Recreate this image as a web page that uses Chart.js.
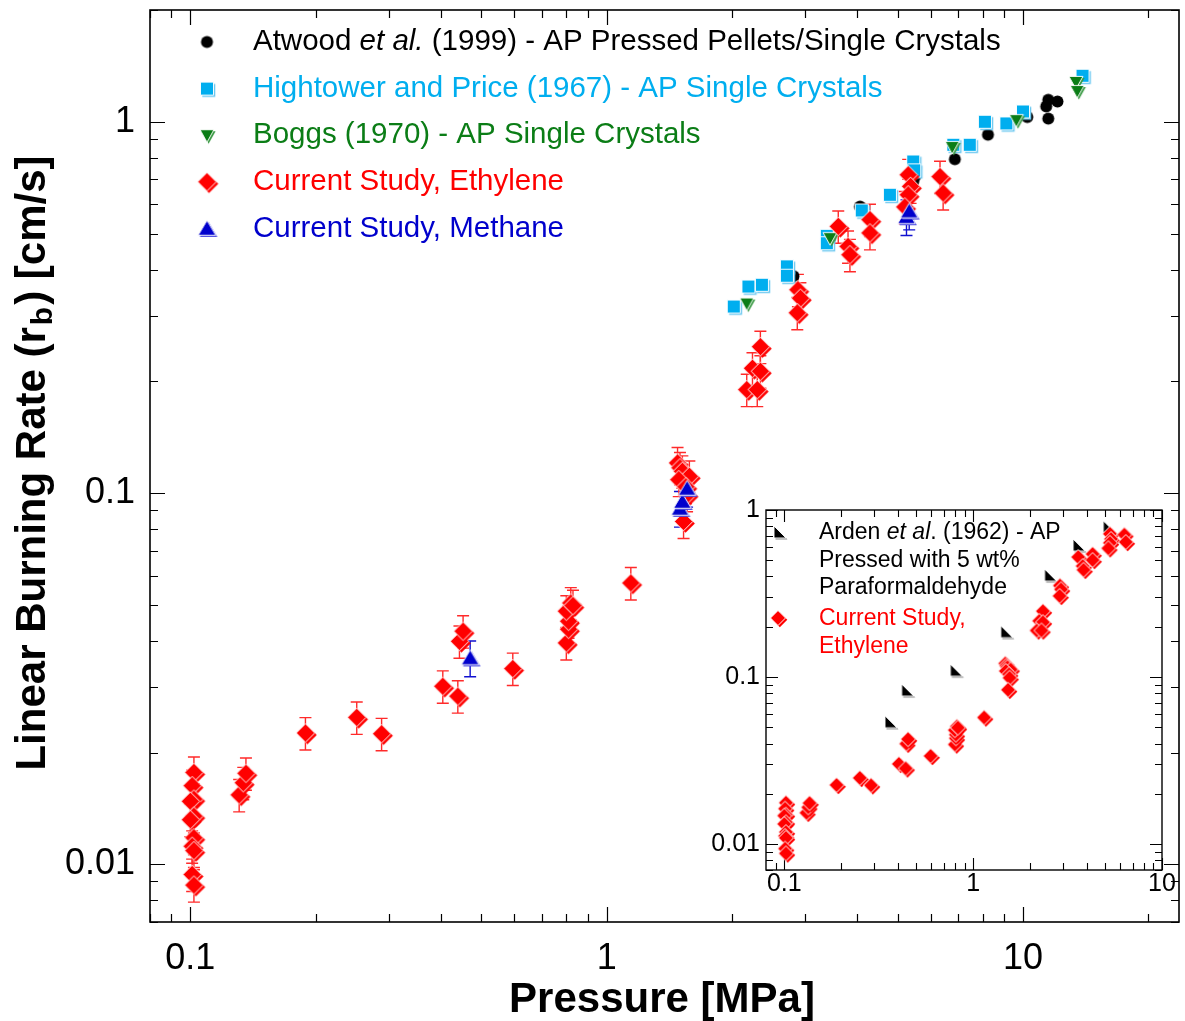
<!DOCTYPE html>
<html><head><meta charset="utf-8">
<script src="https://cdn.jsdelivr.net/npm/chart.js@4.4.0/dist/chart.umd.min.js"></script>
<style>
html,body{margin:0;padding:0;background:#fff;}
#wrap{position:relative;width:1185px;height:1021px;overflow:hidden;}
#main{position:absolute;left:0;top:0;width:1185px;height:1021px;}
#inset{position:absolute;left:705px;top:495px;width:478px;height:410px;}
</style></head><body>
<div id="wrap">
<canvas id="main" width="1185" height="1021"></canvas>
<canvas id="inset" width="478" height="410"></canvas>
</div>
<script>
// ---------------- DATA ----------------
const atwoodPressure = [2.81, 3.44, 4.06, 5.45, 5.50, 6.86, 8.24, 10.24, 11.37, 11.5, 12.1, 11.5];
const atwoodRate     = [0.384, 0.487, 0.591, 0.69, 0.712, 0.793, 0.923, 1.03, 1.10, 1.146, 1.134, 1.02];

const hightowerPressure = [2.02, 2.19, 2.36, 2.71, 2.71, 3.38, 3.38, 4.10, 4.79, 5.45, 5.48, 6.80, 7.45, 8.10, 9.12, 10.0, 13.9];
const hightowerRate     = [0.318, 0.360, 0.364, 0.408, 0.385, 0.493, 0.471, 0.577, 0.636, 0.782, 0.74, 0.867, 0.867, 1.0, 0.99, 1.066, 1.33];

const boggsPressure = [2.17, 3.44, 6.76, 9.64, 13.4, 13.5];
const boggsRate     = [0.324, 0.486, 0.855, 1.01, 1.28, 1.21];

const ethylenePressure = [0.102, 0.101, 0.102, 0.100, 0.102, 0.100, 0.102, 0.101, 0.102, 0.101, 0.102,
  0.131, 0.134, 0.136, 0.189, 0.251, 0.288, 0.404, 0.439, 0.443, 0.452, 0.595,
  0.80, 0.81, 0.81, 0.80, 0.82, 0.83, 1.143,
  1.48, 1.50, 1.52, 1.58, 1.49, 1.55, 1.56, 1.53,
  2.34, 2.24, 2.34, 2.17, 2.30, 2.88, 2.92, 2.87,
  3.60, 3.80, 3.84, 4.29, 4.29, 5.30, 5.37, 5.30, 5.20, 6.32, 6.43];
const ethyleneRate = [0.0177, 0.0163, 0.0150, 0.0148, 0.0135, 0.0132, 0.0118, 0.0112, 0.0109, 0.0094, 0.0088,
  0.0154, 0.0166, 0.0176, 0.0226, 0.0249, 0.0225, 0.0302, 0.0284, 0.0399, 0.0425, 0.0337,
  0.0395, 0.0430, 0.0452, 0.0481, 0.0506, 0.0498, 0.0573,
  0.1206, 0.117, 0.1145, 0.111, 0.1087, 0.104, 0.099, 0.0839,
  0.248, 0.217, 0.213, 0.190, 0.190, 0.353, 0.335, 0.306,
  0.523, 0.462, 0.4385, 0.545, 0.502, 0.72, 0.67, 0.636, 0.59, 0.712, 0.643];

const methanePressure = [0.47, 1.50, 1.52, 1.56, 5.25, 5.33];
const methaneRate     = [0.036, 0.091, 0.095, 0.103, 0.555, 0.575];

const ardenPressure = [0.367, 0.45, 0.815, 1.507, 2.57, 3.64, 5.26];
const ardenRate     = [0.054, 0.0836, 0.110, 0.187, 0.408, 0.617, 0.794];

const ethyleneRelErr = 0.10;
const methaneRelErr = 0.11;

const mainXTicks = [0.1, 1, 10];
const mainXTickLabels = ['0.1', '1', '10'];
const mainYTicks = [0.01, 0.1, 1];
const mainYTickLabels = ['0.01', '0.1', '1'];
const mainXMinor = [0.08, 0.09, 0.2, 0.3, 0.4, 0.5, 0.6, 0.7, 0.8, 0.9, 2, 3, 4, 5, 6, 7, 8, 9, 20];
const mainYMinor = [0.007, 0.008, 0.009, 0.02, 0.03, 0.04, 0.05, 0.06, 0.07, 0.08, 0.09, 0.2, 0.3, 0.4, 0.5, 0.6, 0.7, 0.8, 0.9, 2];

const insetXTicks = [0.1, 1, 10];
const insetXTickLabels = ['0.1', '1', '10'];
const insetYTicks = [0.01, 0.1, 1];
const insetYTickLabels = ['0.01', '0.1', '1'];
const insetXMinor = [0.09, 0.2, 0.3, 0.4, 0.5, 0.6, 0.7, 0.8, 0.9, 2, 3, 4, 5, 6, 7, 8, 9];
const insetYMinor = [0.007, 0.008, 0.009, 0.02, 0.03, 0.04, 0.05, 0.06, 0.07, 0.08, 0.09, 0.2, 0.3, 0.4, 0.5, 0.6, 0.7, 0.8, 0.9];

const xTitle = 'Pressure [MPa]';
const yTitleParts = ['Linear Burning Rate (r', 'b', ') [cm/s]'];

// ---------------- STYLE ----------------
const FONT = "'Liberation Sans', Arial, Helvetica, sans-serif";
const RED = '#ff0000', CYAN = '#00aeef', GREEN = '#0b7d16', BLUE = '#0000cc', BLACK = '#000000';

function zip(a, b) { return a.map((v, i) => ({ x: v, y: b[i] })); }

function shapePath(g, shape, cx, cy, s) {
  g.beginPath();
  if (shape === 'diamond') { g.moveTo(cx, cy - s); g.lineTo(cx + s, cy); g.lineTo(cx, cy + s); g.lineTo(cx - s, cy); g.closePath(); }
  else if (shape === 'square') { g.rect(cx - s, cy - s, 2 * s, 2 * s); }
  else if (shape === 'circle') { g.arc(cx, cy, s, 0, Math.PI * 2); }
  else if (shape === 'triUp') { g.moveTo(cx, cy - s); g.lineTo(cx + s * 1.1, cy + s * 0.85); g.lineTo(cx - s * 1.1, cy + s * 0.85); g.closePath(); }
  else if (shape === 'triDown') { g.moveTo(cx, cy + s); g.lineTo(cx + s, cy - s * 0.8); g.lineTo(cx - s, cy - s * 0.8); g.closePath(); }
  else if (shape === 'corner') { g.moveTo(cx - s, cy - s); g.lineTo(cx - s, cy + s); g.lineTo(cx + s, cy + s); g.closePath(); }
}
function makeMarker(shape, s, fill, edge, off) {
  const dim = Math.ceil(2 * s * 1.2 + 2 * off + 6);
  const c = document.createElement('canvas'); c.width = dim; c.height = dim;
  const g = c.getContext('2d'); const cx = dim / 2, cy = dim / 2;
  if (off > 0) { shapePath(g, shape, cx + off, cy + off, s); g.fillStyle = edge; g.fill(); }
  shapePath(g, shape, cx, cy, s); g.fillStyle = fill; g.fill();
  if (off > 0) { g.lineWidth = 1; g.strokeStyle = 'rgba(255,255,255,0.95)'; g.stroke(); }
  return c;
}

const M = {
  atwood: makeMarker('circle', 6, BLACK, '#333', 0),
  hightower: makeMarker('square', 6.5, CYAN, '#6cc8f0', 1.8),
  boggs: makeMarker('triDown', 7, GREEN, '#3a9a44', 1.6),
  ethylene: makeMarker('diamond', 9.3, RED, RED, 2),
  methane: makeMarker('triUp', 8, BLUE, '#4a4ae0', 1.6),
  ethyleneSmall: makeMarker('diamond', 7.5, RED, RED, 1.8),
  arden: makeMarker('corner', 6, BLACK, '#888', 1.5)
};

// ---------------- PLUGINS ----------------
function frameTicks(cfg) {
  return {
    id: 'frameTicks',
    beforeDatasetsDraw(chart) {
      const { ctx, chartArea: { left, right, top, bottom }, scales: { x, y } } = chart;
      ctx.save();
      ctx.strokeStyle = '#000';
      ctx.lineWidth = cfg.tickWidth;
      const xt = (vals, len) => vals.forEach(v => {
        const p = Math.round(x.getPixelForValue(v)) + 0.5;
        if (p < left - 0.5 || p > right + 0.5) return;
        ctx.beginPath(); ctx.moveTo(p, bottom); ctx.lineTo(p, bottom - len);
        ctx.moveTo(p, top); ctx.lineTo(p, top + len); ctx.stroke();
      });
      const yt = (vals, len) => vals.forEach(v => {
        const p = Math.round(y.getPixelForValue(v)) + 0.5;
        if (p < top - 0.5 || p > bottom + 0.5) return;
        ctx.beginPath(); ctx.moveTo(left, p); ctx.lineTo(left + len, p);
        ctx.moveTo(right, p); ctx.lineTo(right - len, p); ctx.stroke();
      });
      xt(cfg.xMajor, cfg.major); xt(cfg.xMinor, cfg.minor);
      yt(cfg.yMajor, cfg.major); yt(cfg.yMinor, cfg.minor);
      ctx.lineWidth = cfg.frameWidth;
      ctx.strokeRect(left, top, right - left, bottom - top);
      ctx.restore();
    }
  };
}

const errorBars = {
  id: 'errorBars',
  beforeDatasetsDraw(chart) {
    const { ctx, scales: { x, y } } = chart;
    chart.data.datasets.forEach(ds => {
      if (!ds.errRel) return;
      ctx.save();
      ctx.strokeStyle = ds.errColor; ctx.lineWidth = 1.4;
      ds.data.forEach(p => {
        const px = x.getPixelForValue(p.x);
        const y1 = y.getPixelForValue(p.y * (1 + ds.errRel));
        const y0 = y.getPixelForValue(p.y * (1 - ds.errRel));
        ctx.beginPath();
        ctx.moveTo(px, y1); ctx.lineTo(px, y0);
        ctx.moveTo(px - 6, y1); ctx.lineTo(px + 6, y1);
        ctx.moveTo(px - 6, y0); ctx.lineTo(px + 6, y0);
        ctx.stroke();
      });
      ctx.restore();
    });
  }
};

function drawRuns(ctx, x, y, runs, size, color) {
  let cx = x;
  ctx.textBaseline = 'middle'; ctx.textAlign = 'left'; ctx.fillStyle = color;
  runs.forEach(r => {
    ctx.font = (r[1] === 'italic' ? 'italic ' : '') + size + 'px ' + FONT;
    ctx.fillText(r[0], cx, y);
    cx += ctx.measureText(r[0]).width;
  });
}

const mainLegendItems = [
  { marker: M.atwood, color: BLACK, runs: [['Atwood ', 'normal'], ['et al.', 'italic'], [' (1999) - AP Pressed Pellets/Single Crystals', 'normal']] },
  { marker: M.hightower, color: CYAN, runs: [['Hightower and Price (1967) - AP Single Crystals', 'normal']] },
  { marker: M.boggs, color: GREEN, runs: [['Boggs (1970) - AP Single Crystals', 'normal']] },
  { marker: M.ethylene, color: RED, runs: [['Current Study, Ethylene', 'normal']] },
  { marker: M.methane, color: BLUE, runs: [['Current Study, Methane', 'normal']] }
];

const mainDecor = {
  id: 'mainDecor',
  afterDraw(chart) {
    const ctx = chart.ctx;
    ctx.save();
    mainLegendItems.forEach((it, i) => {
      const yy = 42 + i * 46.6;
      ctx.drawImage(it.marker, 207 - it.marker.width / 2, yy - it.marker.height / 2);
      drawRuns(ctx, 253, yy, it.runs, 29.5, it.color);
    });
    // x title
    ctx.font = 'bold 42px ' + FONT; ctx.fillStyle = '#000';
    ctx.textAlign = 'center'; ctx.textBaseline = 'middle';
    ctx.fillText(xTitle, 662, 1000);
    // y title with subscript
    ctx.translate(33, 463); ctx.rotate(-Math.PI / 2);
    ctx.textAlign = 'left';
    const f1 = 'bold 42px ' + FONT, f2 = 'bold 30px ' + FONT;
    ctx.font = f1; const w1 = ctx.measureText(yTitleParts[0]).width, w3 = ctx.measureText(yTitleParts[2]).width;
    ctx.font = f2; const w2 = ctx.measureText(yTitleParts[1]).width + 4;
    let sx = -(w1 + w2 + w3) / 2;
    ctx.font = f1; ctx.fillText(yTitleParts[0], sx, 0); sx += w1 + 2;
    ctx.font = f2; ctx.fillText(yTitleParts[1], sx, 11); sx += w2 - 2;
    ctx.font = f1; ctx.fillText(yTitleParts[2], sx, 0);
    ctx.restore();
  }
};

const insetLegend = {
  id: 'insetLegend',
  afterDraw(chart) {
    const ctx = chart.ctx;
    ctx.save();
    const ox = 705, oy = 495;
    ctx.drawImage(M.arden, 780 - ox - M.arden.width / 2, 532 - oy - M.arden.height / 2);
    drawRuns(ctx, 819 - ox, 533 - oy, [['Arden ', 'normal'], ['et al', 'italic'], ['. (1962) - AP', 'normal']], 23, BLACK);
    drawRuns(ctx, 819 - ox, 561 - oy, [['Pressed with 5 wt%', 'normal']], 23, BLACK);
    drawRuns(ctx, 819 - ox, 588 - oy, [['Paraformaldehyde', 'normal']], 23, BLACK);
    ctx.drawImage(M.ethyleneSmall, 778 - ox - M.ethyleneSmall.width / 2, 618 - oy - M.ethyleneSmall.height / 2);
    drawRuns(ctx, 819 - ox, 619 - oy, [['Current Study,', 'normal']], 23, RED);
    drawRuns(ctx, 819 - ox, 647 - oy, [['Ethylene', 'normal']], 23, RED);
    ctx.restore();
  }
};

function logAxis(opts) {
  return {
    type: 'logarithmic', min: opts.min, max: opts.max,
    grid: { display: false, drawTicks: false }, border: { display: false },
    afterBuildTicks: s => { s.ticks = opts.ticks.map(v => ({ value: v })); },
    afterFit: s => {
      opts.fit(s);
      s.paddingTop = 0; s.paddingBottom = 0; s.paddingLeft = 0; s.paddingRight = 0;
    },
    ticks: {
      autoSkip: false, maxRotation: 0, color: '#000', padding: opts.padding,
      font: { family: FONT, size: opts.size, lineHeight: 1.0 },
      callback: v => { const i = opts.ticks.indexOf(v); return i >= 0 ? opts.labels[i] : ''; }
    }
  };
}

// ---------------- MAIN CHART ----------------
new Chart(document.getElementById('main'), {
  type: 'scatter',
  data: {
    datasets: [
      { label: 'Current Study, Methane', data: zip(methanePressure, methaneRate), pointStyle: M.methane, pointRadius: 5, errRel: methaneRelErr, errColor: '#1010d0' },
      { label: 'Current Study, Ethylene', data: zip(ethylenePressure, ethyleneRate), pointStyle: M.ethylene, pointRadius: 5, errRel: ethyleneRelErr, errColor: '#ff2a2a' },
      { label: 'Boggs (1970)', data: zip(boggsPressure, boggsRate), pointStyle: M.boggs, pointRadius: 5 },
      { label: 'Hightower and Price (1967)', data: zip(hightowerPressure, hightowerRate), pointStyle: M.hightower, pointRadius: 5 },
      { label: 'Atwood et al. (1999)', data: zip(atwoodPressure, atwoodRate), pointStyle: M.atwood, pointRadius: 5 }
    ]
  },
  options: {
    responsive: false, animation: false, events: [],
    layout: { padding: { left: 0, top: 10, right: 3, bottom: 0 } },
    plugins: { legend: { display: false }, tooltip: { enabled: false } },
    scales: {
      x: logAxis({ min: 0.08, max: 23.7, ticks: mainXTicks, labels: mainXTickLabels, size: 36, padding: 19, fit: s => { s.height = 99; } }),
      y: logAxis({ min: 0.007, max: 2, ticks: mainYTicks, labels: mainYTickLabels, size: 36, padding: 15, fit: s => { s.width = 150; } })
    }
  },
  plugins: [frameTicks({ xMajor: mainXTicks, xMinor: mainXMinor, yMajor: mainYTicks, yMinor: mainYMinor, major: 15, minor: 8, tickWidth: 1.2, frameWidth: 1.6 }), errorBars, mainDecor]
});

// ---------------- INSET CHART ----------------
new Chart(document.getElementById('inset'), {
  type: 'scatter',
  data: {
    datasets: [
      { label: 'Current Study, Ethylene', data: zip(ethylenePressure, ethyleneRate), pointStyle: M.ethyleneSmall, pointRadius: 4 },
      { label: 'Arden et al. (1962)', data: zip(ardenPressure, ardenRate), pointStyle: M.arden, pointRadius: 4 }
    ]
  },
  options: {
    responsive: false, animation: false, events: [],
    layout: { padding: { left: 0, top: 15, right: 21, bottom: 0 } },
    plugins: { legend: { display: false }, tooltip: { enabled: false } },
    scales: {
      x: logAxis({ min: 0.08, max: 10, ticks: insetXTicks, labels: insetXTickLabels, size: 25, padding: 2, fit: s => { s.height = 35; } }),
      y: logAxis({ min: 0.007, max: 1, ticks: insetYTicks, labels: insetYTickLabels, size: 25, padding: 6, fit: s => { s.width = 61; } })
    }
  },
  plugins: [frameTicks({ xMajor: insetXTicks, xMinor: insetXMinor, yMajor: insetYTicks, yMinor: insetYMinor, major: 12, minor: 7, tickWidth: 1.1, frameWidth: 1.4 }), insetLegend]
});
</script>
</body></html>
